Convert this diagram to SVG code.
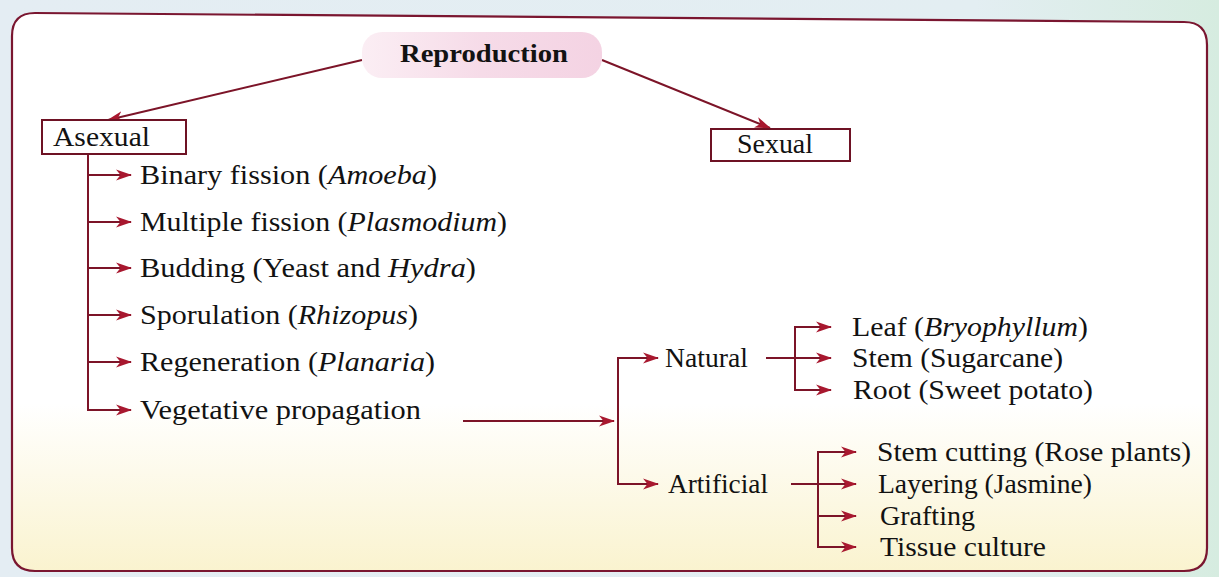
<svg xmlns="http://www.w3.org/2000/svg" width="1219" height="577" viewBox="0 0 1219 577">
<defs>
<style>
.t{font-family:"Liberation Serif","Times New Roman",serif;font-size:28px;fill:#121212}
.s{font-size:27px}
.b{font-weight:bold;font-size:26px}
.i{font-style:italic}
.ln{stroke:#7c1428;stroke-width:2;fill:none}
.box{fill:#ffffff;stroke:#6e1224;stroke-width:2}
</style>
<marker id="ah" markerWidth="16" markerHeight="12" refX="15" refY="6" orient="auto" markerUnits="userSpaceOnUse">
<path d="M0,0.5 L16,6 L0,11.5 L4.5,6 Z" fill="#a8182f"/>
</marker>
<linearGradient id="bg" x1="0" y1="0" x2="1" y2="0">
<stop offset="0" stop-color="#e4edf3"/>
<stop offset="0.8" stop-color="#e3eef2"/>
<stop offset="1" stop-color="#d6ece0"/>
</linearGradient>
<linearGradient id="inner" x1="0" y1="0" x2="0" y2="1">
<stop offset="0" stop-color="#ffffff"/>
<stop offset="0.7" stop-color="#ffffff"/>
<stop offset="1" stop-color="#faf3cf"/>
</linearGradient>
<linearGradient id="pill" x1="0" y1="0" x2="1" y2="0">
<stop offset="0" stop-color="#fbeef4"/>
<stop offset="0.5" stop-color="#f6dbe8"/>
<stop offset="1" stop-color="#f4d3e3"/>
</linearGradient>
</defs>
<rect x="0" y="0" width="1219" height="577" fill="url(#bg)"/>
<path d="M12,36 Q12,13 35,13 L1184,22 Q1207,22 1207,45 L1207,548 Q1207,571 1184,571 L35,571 Q12,571 12,548 Z" fill="url(#inner)" stroke="#7a1630" stroke-width="2.2"/>

<g id="connectors">
<line class="ln" x1="362" y1="60" x2="108" y2="120" marker-end="url(#ah)"/>
<line class="ln" x1="602" y1="60" x2="770" y2="128" marker-end="url(#ah)"/>
<line class="ln" x1="88" y1="155" x2="88" y2="410"/>
<line class="ln" x1="87" y1="175" x2="131" y2="175" marker-end="url(#ah)"/>
<line class="ln" x1="87" y1="222" x2="131" y2="222" marker-end="url(#ah)"/>
<line class="ln" x1="87" y1="268" x2="131" y2="268" marker-end="url(#ah)"/>
<line class="ln" x1="87" y1="315" x2="131" y2="315" marker-end="url(#ah)"/>
<line class="ln" x1="87" y1="362" x2="131" y2="362" marker-end="url(#ah)"/>
<line class="ln" x1="87" y1="410" x2="131" y2="410" marker-end="url(#ah)"/>
<line class="ln" x1="463" y1="421" x2="614" y2="421" marker-end="url(#ah)"/>
<line class="ln" x1="618" y1="358" x2="618" y2="484"/>
<line class="ln" x1="617" y1="358" x2="658" y2="358" marker-end="url(#ah)"/>
<line class="ln" x1="617" y1="484" x2="658" y2="484" marker-end="url(#ah)"/>
<line class="ln" x1="766" y1="358" x2="831" y2="358" marker-end="url(#ah)"/>
<line class="ln" x1="795" y1="327" x2="795" y2="390"/>
<line class="ln" x1="794" y1="327" x2="831" y2="327" marker-end="url(#ah)"/>
<line class="ln" x1="794" y1="390" x2="831" y2="390" marker-end="url(#ah)"/>
<line class="ln" x1="791" y1="484" x2="856" y2="484" marker-end="url(#ah)"/>
<line class="ln" x1="818" y1="452" x2="818" y2="547"/>
<line class="ln" x1="817" y1="452" x2="856" y2="452" marker-end="url(#ah)"/>
<line class="ln" x1="817" y1="516" x2="856" y2="516" marker-end="url(#ah)"/>
<line class="ln" x1="817" y1="547" x2="856" y2="547" marker-end="url(#ah)"/>
</g>

<g id="reproduction">
<rect x="362" y="32" width="240" height="46" rx="20" fill="url(#pill)"/>
<text class="t b" x="400" y="62" textLength="168" lengthAdjust="spacingAndGlyphs">Reproduction</text>
</g>
<g id="asexual">
<rect class="box" x="42" y="120" width="144" height="34"/>
<text class="t" x="53" y="146" textLength="97" lengthAdjust="spacingAndGlyphs">Asexual</text>
</g>
<g id="sexual">
<rect class="box" x="711" y="129" width="139" height="32"/>
<text class="t" x="737" y="153" textLength="76" lengthAdjust="spacingAndGlyphs">Sexual</text>
</g>
<g id="binary"><text class="t" x="140" y="184" textLength="297" lengthAdjust="spacingAndGlyphs">Binary fission (<tspan class="i">Amoeba</tspan>)</text></g>
<g id="multiple"><text class="t" x="140" y="231" textLength="367" lengthAdjust="spacingAndGlyphs">Multiple fission (<tspan class="i">Plasmodium</tspan>)</text></g>
<g id="budding"><text class="t" x="140" y="277" textLength="336" lengthAdjust="spacingAndGlyphs">Budding (Yeast and <tspan class="i">Hydra</tspan>)</text></g>
<g id="sporulation"><text class="t" x="140" y="324" textLength="278" lengthAdjust="spacingAndGlyphs">Sporulation (<tspan class="i">Rhizopus</tspan>)</text></g>
<g id="regeneration"><text class="t" x="140" y="371" textLength="295" lengthAdjust="spacingAndGlyphs">Regeneration (<tspan class="i">Planaria</tspan>)</text></g>
<g id="vegetative"><text class="t" x="140" y="419" textLength="281" lengthAdjust="spacingAndGlyphs">Vegetative propagation</text></g>
<g id="natural"><text class="t" x="665" y="367" textLength="83" lengthAdjust="spacingAndGlyphs">Natural</text></g>
<g id="artificial"><text class="t" x="668" y="493" textLength="100" lengthAdjust="spacingAndGlyphs">Artificial</text></g>
<g id="leaf"><text class="t s" x="852" y="336" textLength="236" lengthAdjust="spacingAndGlyphs">Leaf (<tspan class="i">Bryophyllum</tspan>)</text></g>
<g id="stem"><text class="t s" x="852" y="367" textLength="211" lengthAdjust="spacingAndGlyphs">Stem (Sugarcane)</text></g>
<g id="root"><text class="t s" x="853" y="399" textLength="240" lengthAdjust="spacingAndGlyphs">Root (Sweet potato)</text></g>
<g id="stemcutting"><text class="t s" x="877" y="461" textLength="314" lengthAdjust="spacingAndGlyphs">Stem cutting (Rose plants)</text></g>
<g id="layering"><text class="t s" x="878" y="493" textLength="214" lengthAdjust="spacingAndGlyphs">Layering (Jasmine)</text></g>
<g id="grafting"><text class="t s" x="880" y="525" textLength="95" lengthAdjust="spacingAndGlyphs">Grafting</text></g>
<g id="tissue"><text class="t s" x="880" y="556" textLength="166" lengthAdjust="spacingAndGlyphs">Tissue culture</text></g>
</svg>
